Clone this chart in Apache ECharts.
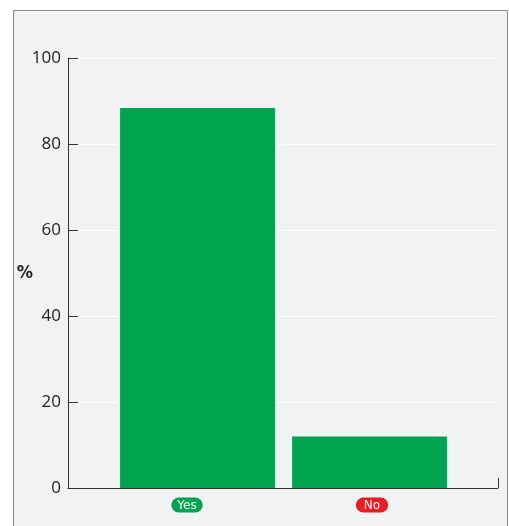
<!DOCTYPE html>
<html>
<head>
<meta charset="utf-8">
<script src="https://cdn.jsdelivr.net/npm/echarts@6/dist/echarts.min.js"></script>
<style>
html,body{margin:0;padding:0;background:#fff;}
#c{width:509px;height:526px;}
</style>
</head>
<body>
<div id="c"></div>
<script>
const categories = ['Yes', 'No'];
const values = [88.4, 12.0];
const yTicks = [0, 20, 40, 60, 80, 100];
const yName = '%';

const chart = echarts.init(document.getElementById('c'));
const axisColor = '#333';
const fontFam = '"Open Sans", "Noto Sans", sans-serif';

chart.setOption({
  animation: false,
  graphic: [{
    type: 'rect', left: 13, top: 10, z: -10,
    shape: { width: 494, height: 530 },
    style: { fill: '#f1f2f4', stroke: '#8a8a8a', lineWidth: 1 }
  }],
  grid: [
    { left: 68, right: 11, top: 58, bottom: 38 },
    { left: 111.5, right: 53.5, top: 58, bottom: 38 },
    { left: 94.5, right: 44.5, top: 58, bottom: 38 }
  ],
  xAxis: [
    { gridIndex: 0, type: 'value', min: 0, max: 1, interval: 1,
      axisLine: { show: true, lineStyle: { color: axisColor, width: 1 } },
      axisTick: { show: true, inside: true, length: 10, lineStyle: { color: axisColor } },
      axisLabel: { show: false }, splitLine: { show: false } },
    { gridIndex: 1, type: 'category', data: categories,
      axisLine: { show: false }, axisTick: { show: false }, axisLabel: { show: false } },
    { gridIndex: 2, type: 'category', data: categories,
      axisLine: { show: false }, axisTick: { show: false },
      axisLabel: {
        margin: 11,
        formatter: function (v) { return v === 'Yes' ? '{y|' + v + '}' : '{n|' + v + '}'; },
        rich: {
          y: { backgroundColor: '#00a34e', color: '#fff', borderRadius: 8, padding: [2, 6, 1, 6],
               fontSize: 12, fontFamily: '"DejaVu Sans", sans-serif', lineHeight: 12 },
          n: { backgroundColor: '#ec1c24', color: '#fff', borderRadius: 8, padding: [2, 8, 1, 8],
               fontSize: 12, fontFamily: '"DejaVu Sans", sans-serif', lineHeight: 12 }
        }
      } }
  ],
  yAxis: [
    { gridIndex: 0, type: 'value', min: yTicks[0], max: yTicks[yTicks.length - 1], interval: 20,
      name: yName, nameLocation: 'middle', nameRotate: 0, nameGap: 35, nameMoveOverlap: false,
      nameTextStyle: { fontSize: 18, fontWeight: 'bold', color: '#222', fontFamily: '"DejaVu Sans Condensed", "DejaVu Sans", sans-serif' },
      axisLine: { show: true, lineStyle: { color: axisColor, width: 1 } },
      axisTick: { show: true, inside: true, length: 10, lineStyle: { color: axisColor } },
      axisLabel: { margin: 7, fontSize: 17, color: '#222', fontFamily: fontFam },
      splitLine: { show: true, lineStyle: { color: '#ffffff', width: 1 } } },
    { gridIndex: 1, type: 'value', min: 0, max: 100, show: false },
    { gridIndex: 2, type: 'value', min: 0, max: 100, show: false }
  ],
  series: [{
    type: 'bar', xAxisIndex: 1, yAxisIndex: 1,
    data: values, barCategoryGap: '10%',
    itemStyle: { color: '#00a34e' }
  }]
});
</script>
</body>
</html>
